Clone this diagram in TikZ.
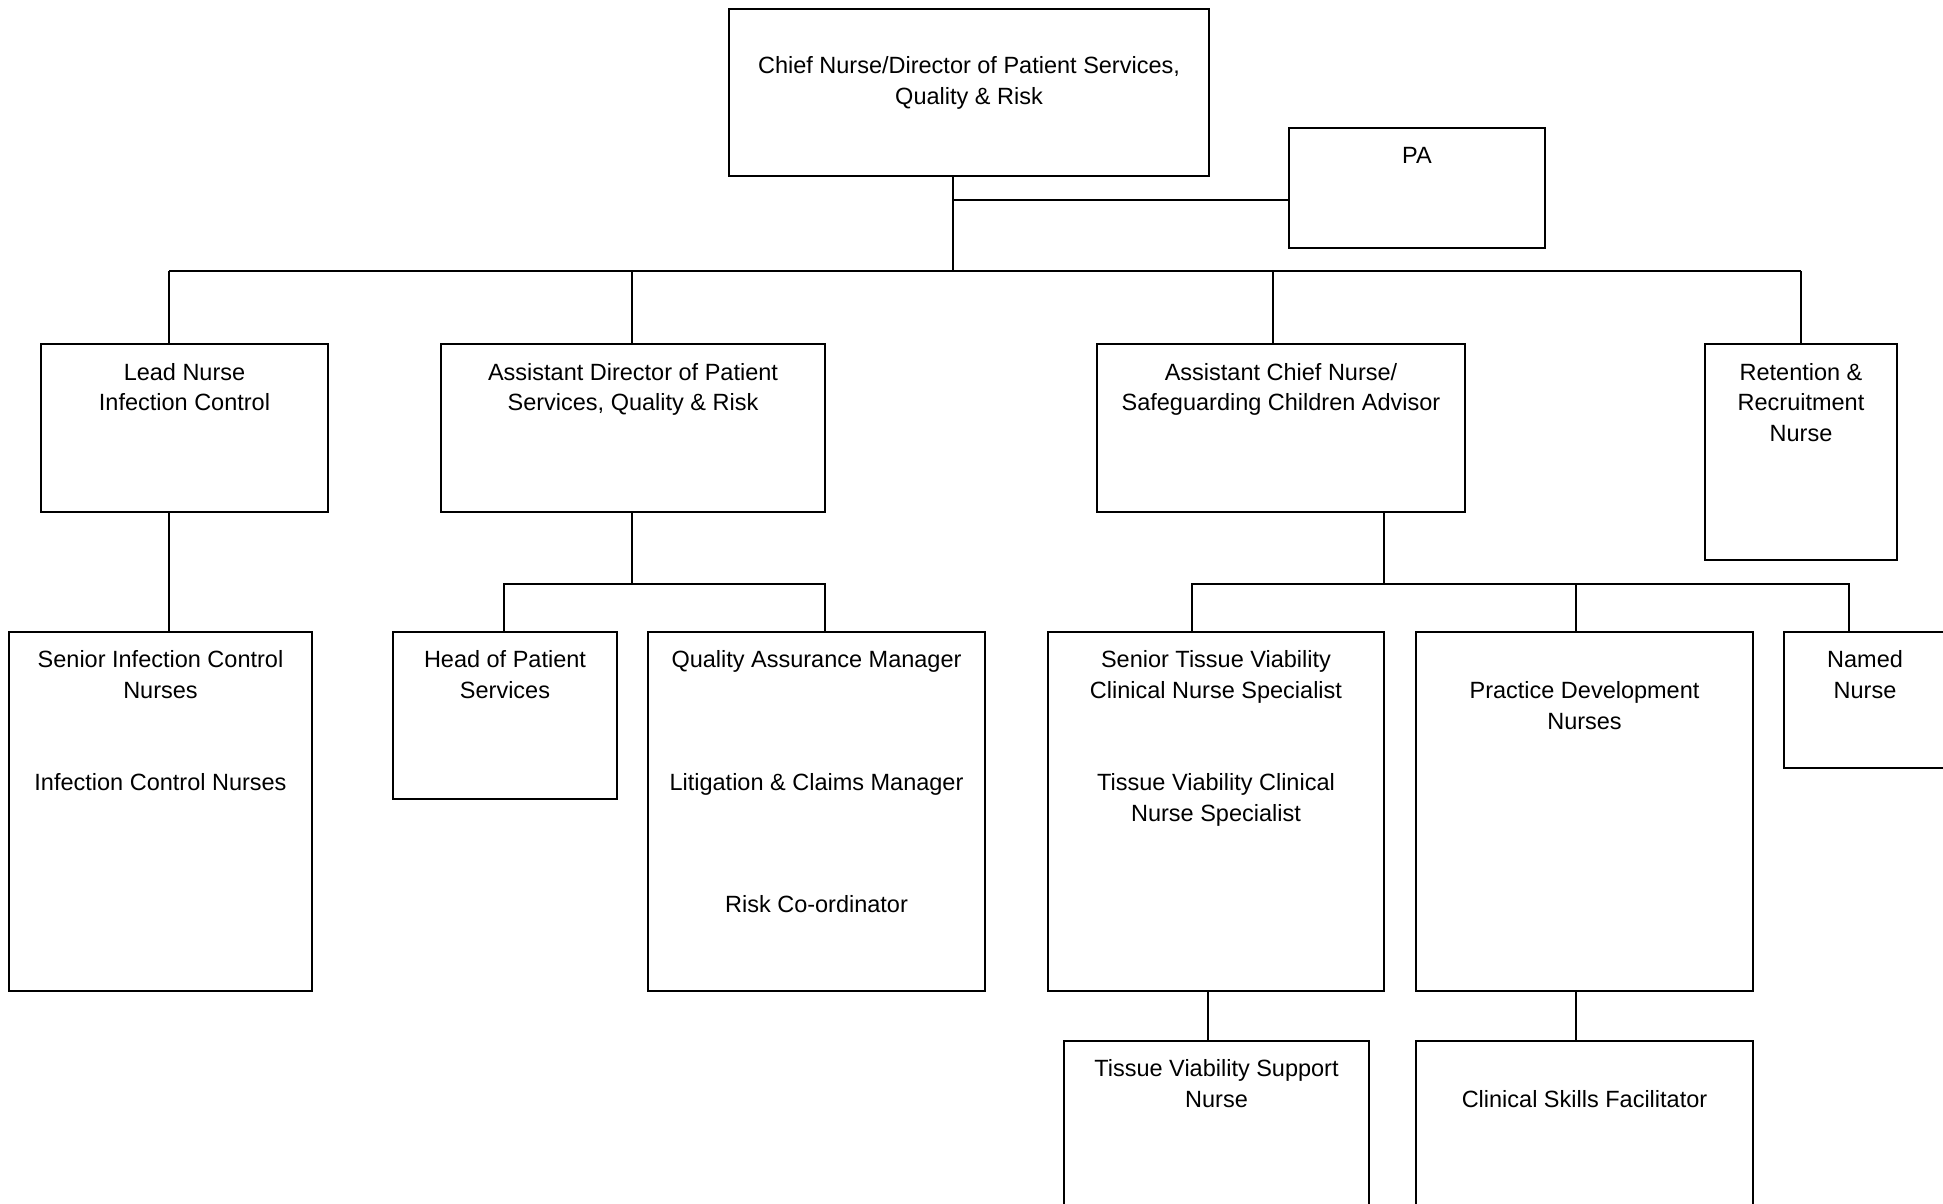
\documentclass[tikz,border=0pt]{standalone}
\usepackage{fontspec}
\setmainfont{Liberation Sans}
\newcommand\orgbox[5]{\node[box,minimum width={#4-#2},minimum height={#5-#3}] (#1) at ({(#2+#4)/2},{(#3+#5)/2}) {};}
\begin{document}
\begin{tikzpicture}[x=1pt,y=-1pt,
  box/.style={draw,line width=1.8pt,inner sep=0pt,rectangle},
  txt/.style={align=center,inner sep=0pt,anchor=north,yshift=-1.5pt,font=\fontsize{23.5}{30.5}\selectfont},
  link/.style={line width=1.5pt}]
\useasboundingbox (0,0) rectangle (1943,1204);
\clip (0,0) rectangle (1943,1204);
% boxes: name, left, top, right, bottom
\orgbox{chief}{729}{9}{1209}{176}
\orgbox{pa}{1289}{128}{1545}{248}
\orgbox{lead}{41}{344}{328}{512}
\orgbox{adir}{441}{344}{825}{512}
\orgbox{acn}{1097}{344}{1465}{512}
\orgbox{ret}{1705}{344}{1897}{560}
\orgbox{sic}{9}{632}{312}{991}
\orgbox{hps}{393}{632}{617}{799}
\orgbox{qam}{648}{632}{985}{991}
\orgbox{stv}{1048}{632}{1384}{991}
\orgbox{pdn}{1416}{632}{1753}{991}
\orgbox{named}{1784}{632}{1962}{768}
\orgbox{tvs}{1064}{1041}{1369}{1240}
\orgbox{csf}{1416}{1041}{1753}{1240}
% texts
\node[txt] (chief-t) at (969,55) {Chief Nurse/Director of Patient Services,\\Quality \& Risk};
\node[txt] (pa-t) at (1417,146) {PA};
\node[txt] (lead-t) at (184.5,361.5) {Lead Nurse\\Infection Control};
\node[txt] (adir-t) at (633,361.5) {Assistant Director of Patient\\Services, Quality \& Risk};
\node[txt] (acn-t) at (1281,361.5) {Assistant Chief Nurse/\\Safeguarding Children Advisor};
\node[txt] (ret-t) at (1801,361.5) {Retention \&\\Recruitment\\Nurse};
\node[txt] (sic-t1) at (160.5,649) {Senior Infection Control\\Nurses};
\node[txt] (sic-t2) at (160.5,772) {Infection Control Nurses};
\node[txt] (hps-t) at (505,649) {Head of Patient\\Services};
\node[txt] (qam-t1) at (816.5,649) {Quality Assurance Manager};
\node[txt] (qam-t2) at (816.5,772) {Litigation \& Claims Manager};
\node[txt] (qam-t3) at (816.5,894) {Risk Co-ordinator};
\node[txt] (stv-t1) at (1216,649) {Senior Tissue Viability\\Clinical Nurse Specialist};
\node[txt] (stv-t2) at (1216,772) {Tissue Viability Clinical\\Nurse Specialist};
\node[txt] (pdn-t) at (1584.5,680) {Practice Development\\Nurses};
\node[txt] (named-t) at (1865,649) {Named\\Nurse};
\node[txt] (tvs-t) at (1216.5,1058) {Tissue Viability Support\\Nurse};
\node[txt] (csf-t) at (1584.5,1089) {Clinical Skills Facilitator};
% junctions
\coordinate (j0) at (953,271);
\coordinate (jp) at (953,200);
\coordinate (b1) at (169,271);
\coordinate (b2) at (632,271);
\coordinate (b3) at (1273,271);
\coordinate (b4) at (1801,271);
\coordinate (a0) at (632,584);
\coordinate (a1) at (504,584);
\coordinate (a2) at (825,584);
\coordinate (c0) at (1384,584);
\coordinate (c1) at (1192,584);
\coordinate (c2) at (1576,584);
\coordinate (c3) at (1849,584);
\coordinate (d1) at (1208,1016);
% connectors
\draw[link] (chief.south -| j0) -- (j0);
\draw[link] (jp) -- (jp -| pa.west);
\draw[link] (b1) -- (b4);
\draw[link] (b1) -- (b1 |- lead.north);
\draw[link] (b2) -- (b2 |- adir.north);
\draw[link] (b3) -- (b3 |- acn.north);
\draw[link] (b4) -- (b4 |- ret.north);
\draw[link] (lead.south -| b1) -- (b1 |- sic.north);
\draw[link] (adir.south -| a0) -- (a0);
\draw[link] (a1 |- hps.north) -- (a1) -- (a2) -- (a2 |- qam.north);
\draw[link] (acn.south -| c0) -- (c0);
\draw[link] (c1 |- stv.north) -- (c1) -- (c3) -- (c3 |- named.north);
\draw[link] (c2) -- (c2 |- pdn.north);
\draw[link] (stv.south -| d1) -- (d1 |- tvs.north);
\draw[link] (pdn.south -| c2) -- (c2 |- csf.north);
\end{tikzpicture}
\end{document}
